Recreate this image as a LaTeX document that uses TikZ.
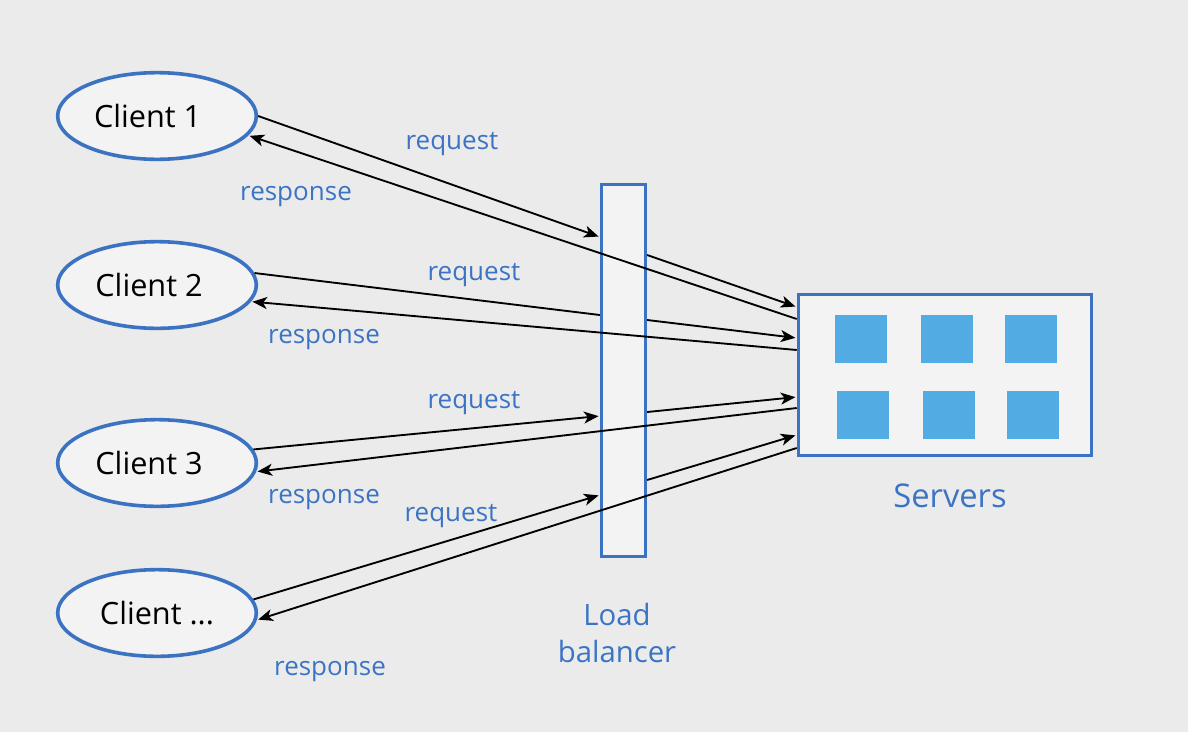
\documentclass[tikz,border=0pt]{standalone}
\usepackage{fontspec}
\setmainfont{Open Sans}
\usetikzlibrary{shapes.geometric,arrows.meta,calc}
\definecolor{bg}{HTML}{EBEBEB}
\definecolor{boxfill}{HTML}{F3F3F3}
\definecolor{edge}{HTML}{3B73C2}
\definecolor{labelblue}{HTML}{3B74C5}
\definecolor{unitblue}{HTML}{52ACE3}
\begin{document}
\begin{tikzpicture}[x=0.75pt,y=-0.75pt,
  client/.style={shape=ellipse, draw=edge, line width=2.7pt, fill=boxfill,
    minimum width=149pt, minimum height=65pt, inner sep=0pt,
    font=\fontsize{23}{26}\selectfont, text=black},
  panel/.style={shape=rectangle, draw=edge, line width=2.4pt, fill=boxfill, inner sep=0pt},
  unit/.style={shape=rectangle, fill=unitblue, minimum width=39pt, minimum height=36pt, inner sep=0pt},
  flowlabel/.style={text=labelblue, font=\fontsize{19.5}{22}\selectfont, inner sep=0pt},
  title/.style={text=labelblue, inner sep=0pt, align=center},
  conn/.style={line width=1.4pt, black},
  tip/.style={conn, -{Stealth[length=11pt,width=9pt,inset=3pt]}, shorten >=1pt},
]
\fill[bg] (0,0) rectangle (1188,732);
\useasboundingbox (0,0) rectangle (1188,732);

% clients
\node[client] (c1) at (157,116) {Client 1\kern14pt};
\node[client] (c2) at (157,285) {Client 2\kern12pt};
\node[client] (c3) at (157,463) {Client 3\kern12pt};
\node[client] (c4) at (157,613) {Client ...};

% load balancer and server rack
\node[panel, minimum width=33pt, minimum height=279pt] (lb) at (623.5,370.5) {};
\node[panel, minimum width=220pt, minimum height=121pt] (srv) at (945,375) {};
\node[unit] (u1) at (861,339) {};
\node[unit] (u2) at (947,339) {};
\node[unit] (u3) at (1031,339) {};
\node[unit] (u4) at (863,415) {};
\node[unit] (u5) at (949,415) {};
\node[unit] (u6) at (1033,415) {};

\node[title, font=\fontsize{24.5}{28}\selectfont] (srvname) at (950,496) {Servers};
\node[title, font=\fontsize{22}{28}\selectfont] (lbname) at (617,633) {Load\\balancer};

% requests: client -> balancer -> servers
\draw[tip] (c1.0) -- (lb.west |- 0,237);
\draw[tip] (lb.east |- 0,255) -- (srv.west |- 0,307);
\draw[conn] (c2.7) -- (lb.west |- 0,315);
\draw[tip] (lb.east |- 0,320) -- (srv.west |- 0,338);
\draw[tip] (c3.8) -- (lb.west |- 0,416);
\draw[tip] (lb.east |- 0,412) -- (srv.west |- 0,397);
\draw[tip] (c4.8) -- (lb.west |- 0,495);
\draw[tip] (lb.east |- 0,480) -- (srv.west |- 0,435);

% responses: servers -> client
\draw[tip] (srv.west |- 0,319) -- (c1.-12);
\draw[tip] (srv.west |- 0,350) -- (c2.-10);
\draw[tip] (srv.west |- 0,408) -- (c3.-5);
\draw[tip] (srv.west |- 0,448) -- (c4.-4);

% flow labels
\node[flowlabel] (rq1) at (452,144) {request};
\node[flowlabel] (rs1) at (296,197) {response};
\node[flowlabel] (rq2) at (474,275) {request};
\node[flowlabel] (rs2) at (324,340) {response};
\node[flowlabel] (rq3) at (474,403) {request};
\node[flowlabel] (rs3) at (324,500) {response};
\node[flowlabel] (rq4) at (451,516) {request};
\node[flowlabel] (rs4) at (330,672) {response};
\end{tikzpicture}
\end{document}
